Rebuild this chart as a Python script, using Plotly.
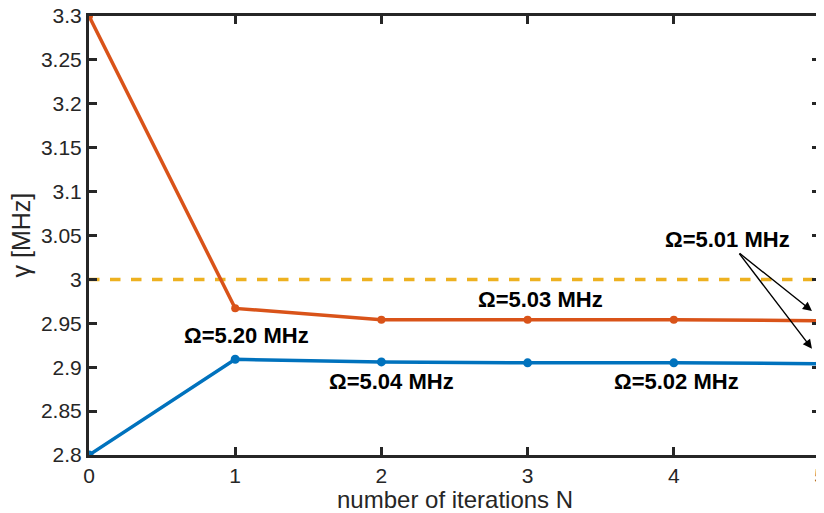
import plotly.graph_objects as go

iterations = [0, 1, 2, 3, 4, 5]
gamma_orange = [3.3, 2.967, 2.954, 2.954, 2.954, 2.953]
gamma_blue = [2.8, 2.909, 2.906, 2.905, 2.905, 2.904]
ref_level = 3.0
y_ticks = [2.8, 2.85, 2.9, 2.95, 3.0, 3.05, 3.1, 3.15, 3.2, 3.25, 3.3]
y_ticklabels = ["2.8", "2.85", "2.9", "2.95", "3", "3.05", "3.1", "3.15", "3.2", "3.25", "3.3"]
x_ticks = [0, 1, 2, 3, 4, 5]
x_title = "number of iterations N"
y_title = "γ [MHz]"

labels = [
    ("Ω=5.01 MHz", 4.37, 3.045),
    ("Ω=5.03 MHz", 3.085, 2.977),
    ("Ω=5.20 MHz", 1.08, 2.936),
    ("Ω=5.04 MHz", 2.07, 2.884),
    ("Ω=5.02 MHz", 4.02, 2.884),
]
arrow_tail = (4.44, 3.031)
arrow_heads = [(4.945, 2.964), (4.945, 2.921)]

ORANGE = "#D95319"
BLUE = "#0072BD"
YELLOW = "#EDB120"
TXT = "#262626"
FONT = "Liberation Sans, Arial, Helvetica, sans-serif"

fig = go.Figure()
fig.add_trace(go.Scatter(x=[iterations[0], iterations[-1]], y=[ref_level, ref_level], mode="lines",
                         line=dict(color=YELLOW, width=3.5, dash="dash"), hoverinfo="skip"))
fig.add_trace(go.Scatter(x=iterations, y=gamma_orange, mode="lines+markers",
                         line=dict(color=ORANGE, width=3.5), marker=dict(color=ORANGE, size=8)))
fig.add_trace(go.Scatter(x=iterations, y=gamma_blue, mode="lines+markers",
                         line=dict(color=BLUE, width=3.5), marker=dict(color=BLUE, size=9)))

annotations = []
for text, x, y in labels:
    annotations.append(dict(x=x, y=y, xref="x", yref="y", text="<b>" + text + "</b>", showarrow=False,
                            font=dict(family=FONT, size=22, color="black")))
for hx, hy in arrow_heads:
    annotations.append(dict(x=hx, y=hy, xref="x", yref="y", ax=arrow_tail[0], ay=arrow_tail[1],
                            axref="x", ayref="y", text="", showarrow=True, arrowhead=2,
                            arrowsize=1.3, arrowwidth=1.4, arrowcolor="black"))
# axis titles
annotations.append(dict(x=0.5, y=0, xref="paper", yref="paper", xanchor="center", yanchor="middle",
                        yshift=-44, text=x_title, showarrow=False,
                        font=dict(family=FONT, size=24, color=TXT)))
annotations.append(dict(x=0, y=0.5, xref="paper", yref="paper", xanchor="center", yanchor="middle",
                        xshift=-69, text=y_title, textangle=-90, showarrow=False,
                        font=dict(family=FONT, size=25, color=TXT)))

# the page body has an 8px default margin, so the margins below are offset by it
fig.update_layout(
    width=824, height=513,
    margin=dict(l=81, r=12, t=8, b=66),
    paper_bgcolor="white", plot_bgcolor="white",
    showlegend=False,
    font=dict(family=FONT, size=21, color=TXT),
    annotations=annotations,
    xaxis=dict(range=[0, 5], tickvals=x_ticks, ticks="inside", ticklen=8, tickwidth=2.5,
               tickcolor=TXT, showline=True, linecolor=TXT, linewidth=3,
               mirror="ticks", showgrid=False, zeroline=False, automargin=False,
               ticklabeloverflow="allow"),
    yaxis=dict(range=[2.8, 3.3], tickvals=y_ticks, ticktext=y_ticklabels, ticks="inside",
               ticklen=8, tickwidth=2.5, tickcolor=TXT, showline=True, linecolor=TXT,
               linewidth=3, mirror="ticks", showgrid=False, zeroline=False, automargin=False,
               ticklabeloverflow="allow"),
)

fig.write_html("out.html")
